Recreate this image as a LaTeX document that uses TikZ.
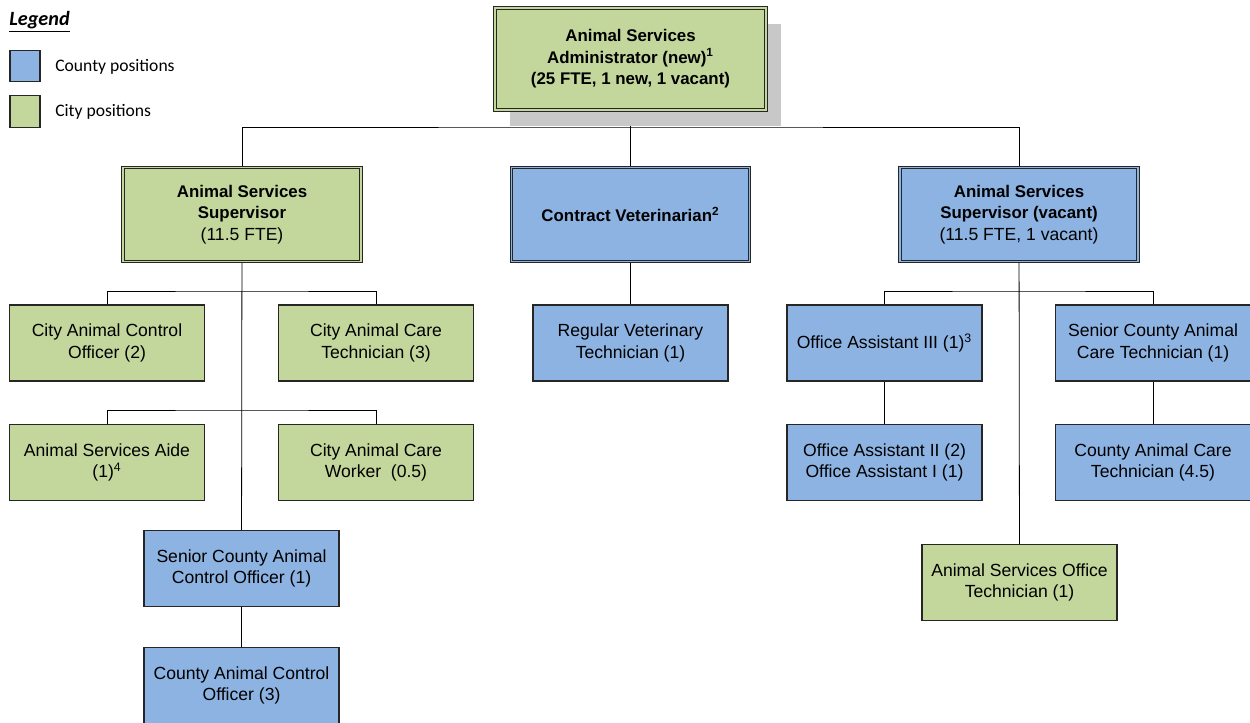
\documentclass[tikz,border=0pt]{standalone}
\usepackage{fontspec}
\setmainfont{Liberation Sans}
\newfontfamily\legendfont{Carlito}
\usetikzlibrary{shadows}
\pgfdeclarelayer{bg}
\pgfsetlayers{bg,main}
\definecolor{countyblue}{RGB}{141,179,226}
\definecolor{citygreen}{RGB}{195,214,155}
\definecolor{shadowgray}{RGB}{200,200,200}
\tikzset{
    every node/.style={align=center, inner sep=0pt,
        font=\fontsize{10}{12.2}\selectfont},
    posbox/.style={draw=black!85, line width=0.6pt,
        minimum width=39mm, minimum height=15.2mm},
    county/.style={posbox, fill=countyblue},
    city/.style={posbox, fill=citygreen},
    headbox/.style={line width=0.5pt, double distance=1pt,
        minimum width=47.6mm, minimum height=18.8mm},
    countyhead/.style={county, headbox, double=countyblue},
    cityhead/.style={city, headbox, double=citygreen},
    legendsq/.style={draw=black!85, line width=0.6pt,
        minimum width=6mm, minimum height=6.3mm},
    legendtext/.style={anchor=west, font=\legendfont\fontsize{10}{12}\selectfont},
    link/.style={line width=0.45pt}
}
\newcommand{\hd}[1]{{\fontsize{9.6}{11.2}\selectfont\bfseries #1}}

\begin{document}
\begin{tikzpicture}[x=0.2mm, y=-0.2mm]
	\useasboundingbox (0,0) rectangle (1250,723);

	% legend
	\node (legend) [anchor=west, font=\legendfont\fontsize{11.5}{13}\selectfont\bfseries\itshape] at (9,22) {\underline{Legend}};
	\node (countysq) [legendsq, fill=countyblue] at (25,66) {};
	\node (citysq) [legendsq, fill=citygreen] at (25,111.5) {};
	\node (countylbl) [legendtext] at (55,67) {County positions};
	\node (citylbl) [legendtext] at (55,112) {City positions};

	% top
	\node (admin) [cityhead, minimum width=54.2mm, minimum height=20.4mm,
		drop shadow={shadow xshift=3mm, shadow yshift=-3.2mm, fill=shadowgray, opacity=1}]
		at (630.5, 59) {\hd{Animal Services}\\ \hd{Administrator (new)\textsuperscript{1}}\\ \hd{(25 FTE, 1 new, 1 vacant)}};

	% second level
	\node (supL) [cityhead] at (242, 214.5) {\hd{Animal Services}\\ \hd{Supervisor}\\ (11.5 FTE)};
	\node (vet) [countyhead] at (630.5, 214.5) {\hd{Contract Veterinarian\textsuperscript{2}}};
	\node (supR) [countyhead] at (1019, 214.5) {\hd{Animal Services}\\ \hd{Supervisor (vacant)}\\ (11.5 FTE, 1 vacant)};

	% left branch
	\node (caco) [city] at (107, 343) {City Animal Control\\ Officer (2)};
	\node (cact) [city] at (376, 343) {City Animal Care\\ Technician (3)};
	\node (aide) [city] at (107, 462.5) {Animal Services Aide\\ (1)\textsuperscript{4}};
	\node (cacw) [city] at (376, 462.5) {City Animal Care\\ Worker\ \ (0.5)};
	\node (scaco) [county] at (241.5, 568.5) {Senior County Animal\\ Control Officer (1)};
	\node (coaco) [county] at (241.5, 685.5) {County Animal Control\\ Officer (3)};

	% middle branch
	\node (rvt) [county] at (630.5, 343) {Regular Veterinary\\ Technician (1)};

	% right branch
	\node (oa3) [county] at (884.5, 343) {Office Assistant III (1)\textsuperscript{3}};
	\node (scact) [county] at (1153, 343) {Senior County Animal\\ Care Technician (1)};
	\node (oa21) [county] at (884.5, 462.5) {Office Assistant II (2)\\ Office Assistant I (1)};
	\node (coact) [county] at (1153, 462.5) {County Animal Care\\ Technician (4.5)};
	\node (asot) [city] at (1019.5, 582.5) {Animal Services Office\\ Technician (1)};

	\coordinate (bus) at (630.5, 127);
	\coordinate (busL1) at (242, 291);
	\coordinate (busL2) at (242, 410);
	\coordinate (busR) at (1019, 291);

	\begin{pgfonlayer}{bg}
	\draw [link] (admin) -- (bus); \draw [link] (vet) -- (bus);
	\draw [link] (supL.north) |- (bus) -| (supR.north);

	\draw [link] (caco.north) |- (busL1) -| (cact.north);
	\draw [link] (aide.north) |- (busL2) -| (cacw.north);
	\draw [link] (supL) edge (scaco); \draw [link] (scaco) edge (coaco);

	\draw [link] (vet) edge (rvt);

	\draw [link] (oa3.north) |- (busR) -| (scact.north);
	\draw [link] (supR) edge (asot);
	\draw [link] (oa3) edge (oa21); \draw [link] (scact) edge (coact);
	\end{pgfonlayer}
\end{tikzpicture}
\end{document}
